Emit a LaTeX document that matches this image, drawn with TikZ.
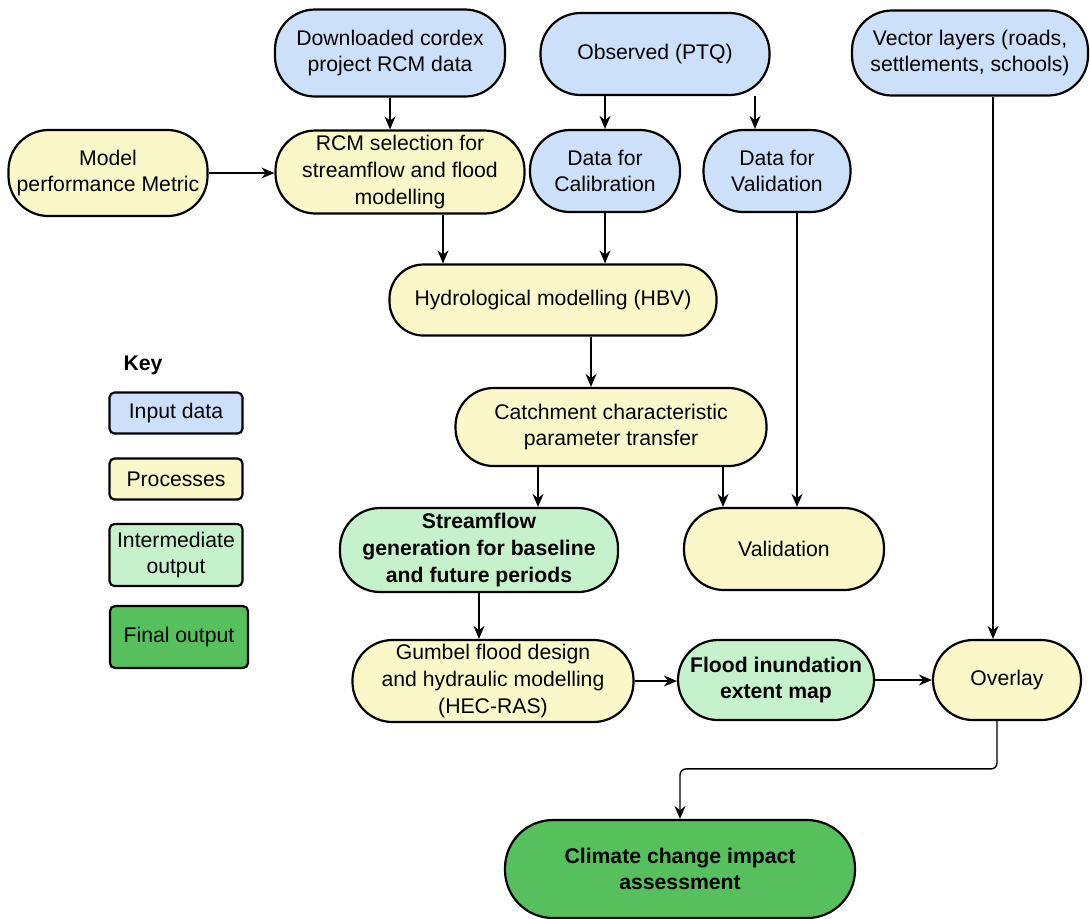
\documentclass[tikz,border=0pt]{standalone}
\usepackage{fontspec}
\setmainfont{Liberation Sans}
\usetikzlibrary{arrows.meta,positioning,calc}

\definecolor{inblue}{RGB}{205,224,249}
\definecolor{procyellow}{RGB}{250,247,200}
\definecolor{intgreen}{RGB}{198,242,203}
\definecolor{finalgreen}{RGB}{86,192,92}

\begin{document}
\begin{tikzpicture}[
      x = 0.5pt, y = -0.5pt,
      font = \fontsize{10.6}{13.3}\selectfont,
      base/.style = {rectangle,draw,line width = 1.1pt,rounded corners = 20pt,align = center,inner sep = 2pt},
      input/.style = {base,fill = inblue},
      process/.style = {base,fill = procyellow},
      inter/.style = {base,fill = intgreen,font = \fontsize{10.6}{13.3}\selectfont\bfseries},
      final/.style = {base,fill = finalgreen,font = \fontsize{10.6}{13.3}\selectfont\bfseries},
      keybox/.style = {rectangle,draw,line width = 1.1pt,rounded corners = 2.5pt,align = center,inner sep = 2pt,minimum width = 66.5pt},
      arrow/.style = {-{Stealth[length = 6.5pt,width = 5.5pt]},line width = 0.7pt}
      ]
      \useasboundingbox (0,0) rectangle (1090,918);

      % input data
      \node (cordex)[input,minimum width = 115pt,minimum height = 43.5pt] at (390,53) {Downloaded cordex\\project RCM data};
      \node (observed)[input,minimum width = 114.5pt,minimum height = 41pt] at (655,54) {Observed (PTQ)};
      \node (vector)[input,minimum width = 118pt,minimum height = 42.5pt] at (970,53) {Vector layers (roads,\\settlements, schools)};
      \node (caldata)[input,minimum width = 75pt,minimum height = 41pt] at (605,171) {Data for\\Calibration};
      \node (valdata)[input,minimum width = 73.5pt,minimum height = 41pt] at (777,171) {Data for\\Validation};

      % processes
      \node (metric)[process,minimum width = 99.5pt,minimum height = 43pt] at (108,173) {Model\\performance Metric};
      \node (rcm)[process,minimum width = 124.5pt,minimum height = 41.5pt] at (400,172) {RCM selection for\\streamflow and flood\\modelling};
      \node (hbv)[process,rounded corners = 17pt,minimum width = 163.5pt,minimum height = 35.5pt] at (553,300) {Hydrological modelling (HBV)};
      \node (catchment)[process,rounded corners = 19pt,minimum width = 155.5pt,minimum height = 39pt] at (611,427) {Catchment characteristic\\parameter transfer};
      \node (validation)[process,minimum width = 100pt,minimum height = 41pt] at (784,549) {Validation};
      \node (gumbel)[process,minimum width = 140.5pt,minimum height = 41pt] at (493,681) {Gumbel flood design\\and hydraulic modelling\\(HEC-RAS)};
      \node (overlay)[process,minimum width = 74pt,minimum height = 40pt] at (1007,680) {Overlay};

      % outputs
      \node (streamflow)[inter,minimum width = 139pt,minimum height = 42pt] at (479,550) {Streamflow\\generation for baseline\\and future periods};
      \node (flood)[inter,minimum width = 98pt,minimum height = 40pt] at (776,680) {Flood inundation\\extent map};
      \node (climate)[final,rounded corners = 24pt,minimum width = 175pt,minimum height = 49pt] at (680,869) {Climate change impact\\assessment};

      % key
      \node (keytitle)[font = \fontsize{10.6}{13.3}\selectfont\bfseries] at (143,365) {Key};
      \node (keyinput)[keybox,fill = inblue,minimum height = 20.5pt] at (176,413) {Input data};
      \node (keyprocess)[keybox,fill = procyellow,minimum height = 20.5pt] at (176,479) {Processes};
      \node (keyinter)[keybox,fill = intgreen,minimum height = 31pt] at (176,555) {Intermediate\\output};
      \node (keyfinal)[keybox,fill = finalgreen,minimum width = 69pt,minimum height = 31pt] at (179,637) {Final output};

      % connectors
      \draw[arrow] (cordex.south) -- (cordex.south |- rcm.north);
      \draw[arrow] (caldata.north |- observed.south) -- (caldata.north);
      \draw[arrow] ([xshift = 50pt]observed.south) -- ([xshift = 50pt]observed.south |- valdata.north);
      \draw[arrow] (metric.east) -- (metric.east -| rcm.west);
      \draw[arrow] ([xshift = 21.5pt]rcm.south) -- ([xshift = 21.5pt]rcm.south |- hbv.north);
      \draw[arrow] (caldata.south) -- (caldata.south |- hbv.north);
      \draw[arrow] ([xshift = 10pt]valdata.south) -- ([xshift = 10pt]valdata.south |- validation.north);
      \draw[arrow] ([xshift = 19pt]hbv.south) -- ([xshift = 19pt]hbv.south |- catchment.north);
      \draw[arrow] ([xshift = -36.5pt]catchment.south) -- ([xshift = -36.5pt]catchment.south |- streamflow.north);
      \draw[arrow] ([xshift = 56pt]catchment.south) -- ([xshift = 56pt]catchment.south |- validation.north);
      \draw[arrow] (streamflow.south) -- (streamflow.south |- gumbel.north);
      \draw[arrow] (gumbel.east) -- (gumbel.east -| flood.west);
      \draw[arrow] (flood.east) -- (flood.east -| overlay.west);
      \draw[arrow] ([xshift = 11.5pt]vector.south) -- ([xshift = 11.5pt]vector.south |- overlay.north);
      \draw[arrow,rounded corners = 3pt] ([xshift = -5pt]overlay.south) |- ($(climate.north)+(0,-50)$) -- (climate.north);
    \end{tikzpicture}
\end{document}
